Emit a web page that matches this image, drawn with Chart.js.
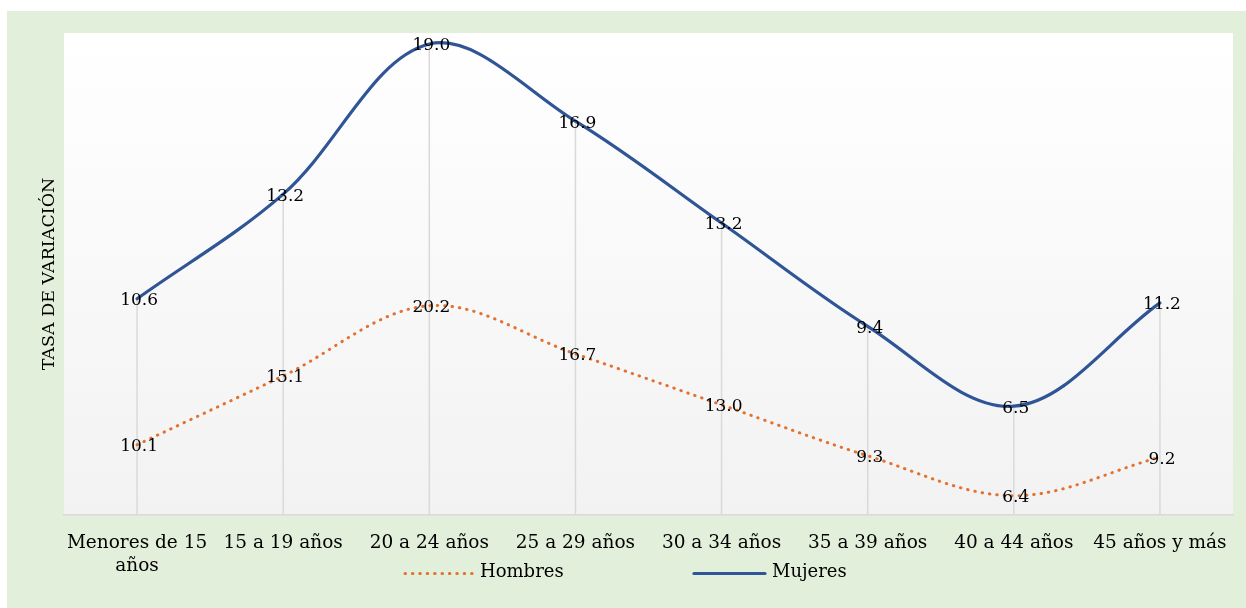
<!DOCTYPE html>
<html>
<head>
<meta charset="utf-8">
<script src="https://cdn.jsdelivr.net/npm/chart.js@4.4.1/dist/chart.umd.min.js"></script>
<style>
  html, body { margin: 0; padding: 0; background: #ffffff; }
  #contenedor { width: 1246px; height: 608px; }
</style>
</head>
<body>
<div id="contenedor"><canvas id="grafico" width="1246" height="608"></canvas></div>
<script>
// Datos del gráfico
const categorias = [['Menores de 15', 'años'], '15 a 19 años', '20 a 24 años', '25 a 29 años',
    '30 a 34 años', '35 a 39 años', '40 a 44 años', '45 años y más'];
const hombres = [10.1, 15.1, 20.2, 16.7, 13.0, 9.3, 6.4, 9.2];
const mujeres = [10.6, 13.2, 19.0, 16.9, 13.2, 9.4, 6.5, 11.2];
const ejeMin = 5;
const ejeMax = 40;

const colorHombres = '#E2732F';
const colorMujeres = '#2F5597';
const fuente = "'DejaVu Serif', serif";

// Fondo verde y área de trazado con degradado
const fondoPlugin = {
    id: 'fondo',
    beforeDraw(chart) {
        const ctx = chart.ctx;
        const area = chart.chartArea;
        ctx.save();
        ctx.fillStyle = '#E2EFDA';
        ctx.fillRect(7, 11, chart.width - 7, chart.height - 11);
        const grad = ctx.createLinearGradient(0, area.top, 0, area.bottom);
        grad.addColorStop(0, '#FFFFFF');
        grad.addColorStop(1, '#F2F2F2');
        ctx.fillStyle = grad;
        ctx.fillRect(area.left, area.top, area.right - area.left, area.bottom - area.top);
        ctx.restore();
    }
};

// Líneas de proyección desde la serie superior hasta el eje
const lineasPlugin = {
    id: 'lineasProyeccion',
    beforeDatasetsDraw(chart) {
        const ctx = chart.ctx;
        const meta = chart.getDatasetMeta(1);
        ctx.save();
        ctx.strokeStyle = '#D9D9D9';
        ctx.lineWidth = 1.5;
        meta.data.forEach(p => {
            ctx.beginPath();
            ctx.moveTo(p.x, p.y);
            ctx.lineTo(p.x, chart.chartArea.bottom);
            ctx.stroke();
        });
        ctx.restore();
    }
};

// Etiquetas de valores centradas en cada punto
const etiquetasPlugin = {
    id: 'etiquetas',
    afterDatasetsDraw(chart) {
        const ctx = chart.ctx;
        ctx.save();
        ctx.font = '17px ' + fuente;
        ctx.fillStyle = '#000000';
        ctx.textAlign = 'center';
        ctx.textBaseline = 'middle';
        chart.data.datasets.forEach((ds, i) => {
            chart.getDatasetMeta(i).data.forEach((p, j) => {
                ctx.fillText(ds.data[j].toFixed(1), p.x + 2, p.y + 2);
            });
        });
        ctx.restore();
    }
};

// Leyenda inferior al estilo de Excel
const leyendaPlugin = {
    id: 'leyenda',
    afterDraw(chart) {
        const ctx = chart.ctx;
        const y = 573.5;
        const items = [
            { ds: chart.data.datasets[0], x0: 405, x1: 473 },
            { ds: chart.data.datasets[1], x0: 694, x1: 765 }
        ];
        ctx.save();
        items.forEach(it => {
            ctx.strokeStyle = it.ds.borderColor;
            ctx.lineWidth = it.ds.borderWidth;
            ctx.lineCap = it.ds.borderCapStyle || 'butt';
            ctx.setLineDash(it.ds.borderDash || []);
            ctx.beginPath();
            ctx.moveTo(it.x0, y);
            ctx.lineTo(it.x1, y);
            ctx.stroke();
            ctx.setLineDash([]);
            ctx.font = '18px ' + fuente;
            ctx.fillStyle = '#000000';
            ctx.textAlign = 'left';
            ctx.textBaseline = 'middle';
            ctx.fillText(it.ds.label, it.x1 + 7, y - 1);
        });
        ctx.restore();
    }
};

const ctx = document.getElementById('grafico').getContext('2d');
new Chart(ctx, {
    type: 'line',
    data: {
        labels: categorias,
        datasets: [
            {
                label: 'Hombres',
                data: hombres,
                borderColor: colorHombres,
                borderWidth: 3,
                borderDash: [0.5, 6.9],
                borderCapStyle: 'round',
                tension: 0.35,
                pointRadius: 0,
                fill: false
            },
            {
                label: 'Mujeres',
                data: mujeres,
                borderColor: colorMujeres,
                borderWidth: 3.2,
                borderCapStyle: 'round',
                tension: 0.35,
                pointRadius: 0,
                fill: false
            }
        ]
    },
    options: {
        responsive: false,
        animation: false,
        devicePixelRatio: 1,
        layout: { padding: { left: 7, top: 33, right: 13, bottom: 0 } },
        plugins: {
            legend: { display: false },
            tooltip: { enabled: false }
        },
        scales: {
            x: {
                type: 'category',
                offset: true,
                grid: { display: false, drawTicks: false },
                border: { display: true, color: '#D9D9D9', width: 1.5 },
                ticks: {
                    color: '#000000',
                    font: { family: fuente, size: 18.5, lineHeight: 1.24 },
                    padding: 17,
                    maxRotation: 0,
                    autoSkip: false
                },
                afterFit(scale) { scale.height = 93; }
            },
            y: {
                stacked: true,
                min: ejeMin,
                max: ejeMax,
                grid: { display: false },
                border: { display: false },
                ticks: { display: false },
                title: {
                    display: true,
                    text: 'TASA DE VARIACIÓN',
                    color: '#000000',
                    font: { family: fuente, size: 17.5, lineHeight: 1.2 },
                    padding: { top: 32, bottom: 4 }
                },
                afterFit(scale) { scale.width = 57; }
            }
        }
    },
    plugins: [fondoPlugin, lineasPlugin, etiquetasPlugin, leyendaPlugin]
});
</script>
</body>
</html>
